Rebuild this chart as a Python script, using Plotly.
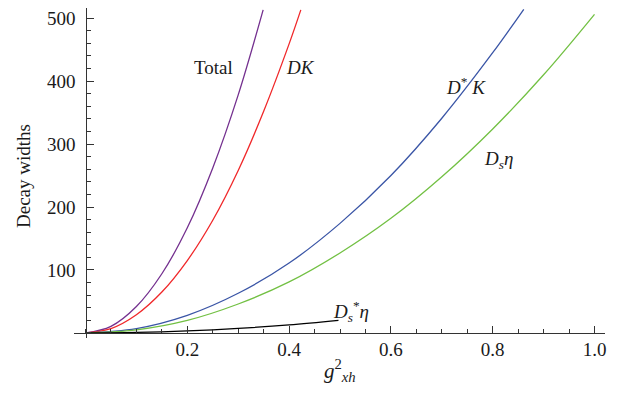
import plotly.graph_objects as go

# Data (x = g_xh^2, y = decay widths)
x_total = [0, 0.05, 0.1, 0.15, 0.2, 0.25, 0.3, 0.349]
y_total = [0, 10.5, 42, 94, 167, 262, 378, 513]

x_dk = [0, 0.05, 0.1, 0.15, 0.2, 0.25, 0.3, 0.35, 0.4, 0.423]
y_dk = [0, 7, 29, 65, 115, 179, 258, 352, 459, 513]

x_dstark = [0, 0.1, 0.2, 0.3, 0.4, 0.5, 0.6, 0.7, 0.8, 0.861]
y_dstark = [0, 7, 28, 63, 111, 174, 250, 341, 445, 514]

x_dseta = [0, 0.1, 0.2, 0.3, 0.4, 0.5, 0.6, 0.7, 0.8, 0.9, 1.0]
y_dseta = [0, 5, 20, 46, 81, 127, 182, 248, 324, 410, 506]

x_dsstareta = [0, 0.1, 0.2, 0.3, 0.4, 0.497]
y_dsstareta = [0, 0.8, 3.2, 7.2, 12.8, 20]

x_ticks = [0.2, 0.4, 0.6, 0.8, 1.0]
x_ticklabels = ["0.2", "0.4", "0.6", "0.8", "1.0"]
y_ticks = [100, 200, 300, 400, 500]
y_ticklabels = ["100", "200", "300", "400", "500"]

FONT = "Liberation Serif"
AXC = "#333333"
TXT = "#1a1a1a"

series = [
    (x_total, y_total, "#74308f"),
    (x_dk, y_dk, "#f0282a"),
    (x_dstark, y_dstark, "#3a55a6"),
    (x_dseta, y_dseta, "#72c043"),
    (x_dsstareta, y_dsstareta, "#000000"),
]

fig = go.Figure()
for xs, ys, c in series:
    fig.add_trace(go.Scatter(x=xs, y=ys, mode="lines", line=dict(color=c, width=1.3, shape="spline"),
                             showlegend=False, hoverinfo="skip"))

W, H = 626, 397
L, R, T, B = 74, 21, 8, 59
xr = [-0.0226, 1.0206]
yr = [-8, 516]
tickfont = dict(family=FONT, size=19, color=TXT)

fig.update_layout(
    width=W, height=H,
    margin=dict(l=L, r=R, t=T, b=B),
    paper_bgcolor="white", plot_bgcolor="white",
    font=dict(family=FONT, size=19, color=TXT),
    xaxis=dict(range=xr, showgrid=False, zeroline=False, showline=True, linecolor=AXC, linewidth=1.3,
               anchor="free", position=(0 - yr[0]) / (yr[1] - yr[0]),
               tickmode="array", tickvals=x_ticks, ticktext=x_ticklabels, tickfont=tickfont,
               ticks="inside", ticklen=7, tickwidth=1.2, tickcolor=AXC, ticklabelstandoff=-1,
               minor=dict(ticks="inside", ticklen=4, tickwidth=1, tickcolor=AXC, dtick=0.05, tick0=0)),
    yaxis=dict(range=yr, showgrid=False, zeroline=False, showline=True, linecolor=AXC, linewidth=1.3,
               anchor="free", position=(0 - xr[0]) / (xr[1] - xr[0]),
               tickmode="array", tickvals=y_ticks, ticktext=y_ticklabels, tickfont=tickfont,
               ticks="inside", ticklen=7, tickwidth=1.2, tickcolor=AXC, ticklabelstandoff=6,
               minor=dict(ticks="inside", ticklen=4, tickwidth=1, tickcolor=AXC, dtick=20, tick0=0)),
)


def paper_xy(px, py):
    return (px - L) / (W - L - R), (H - B - py) / (H - T - B)


def ann(px, py, text, size=19, angle=0):
    x, y = paper_xy(px, py)
    fig.add_annotation(x=x, y=y, xref="paper", yref="paper", text=text, showarrow=False,
                       xanchor="center", yanchor="middle", textangle=angle,
                       font=dict(family=FONT, size=size, color=TXT))


ann(213, 68, "Total")
ann(300, 67, "<i>DK</i>")
ann(466, 86, "<i>D</i><sup>*</sup> <i>K</i>")
ann(498, 160, "<i>D</i><sub><i>s</i></sub><i>η</i>")
ann(351, 311, "<i>D</i><sub><i>s</i></sub><sup>*</sup><i>η</i>")

# axis titles
ann(24, 176, "Decay widths", angle=-90)
ann(340, 370, "<i>g</i><sup>2</sup><sub><i>xh</i></sub>", size=21)

fig.write_html("out.html")
